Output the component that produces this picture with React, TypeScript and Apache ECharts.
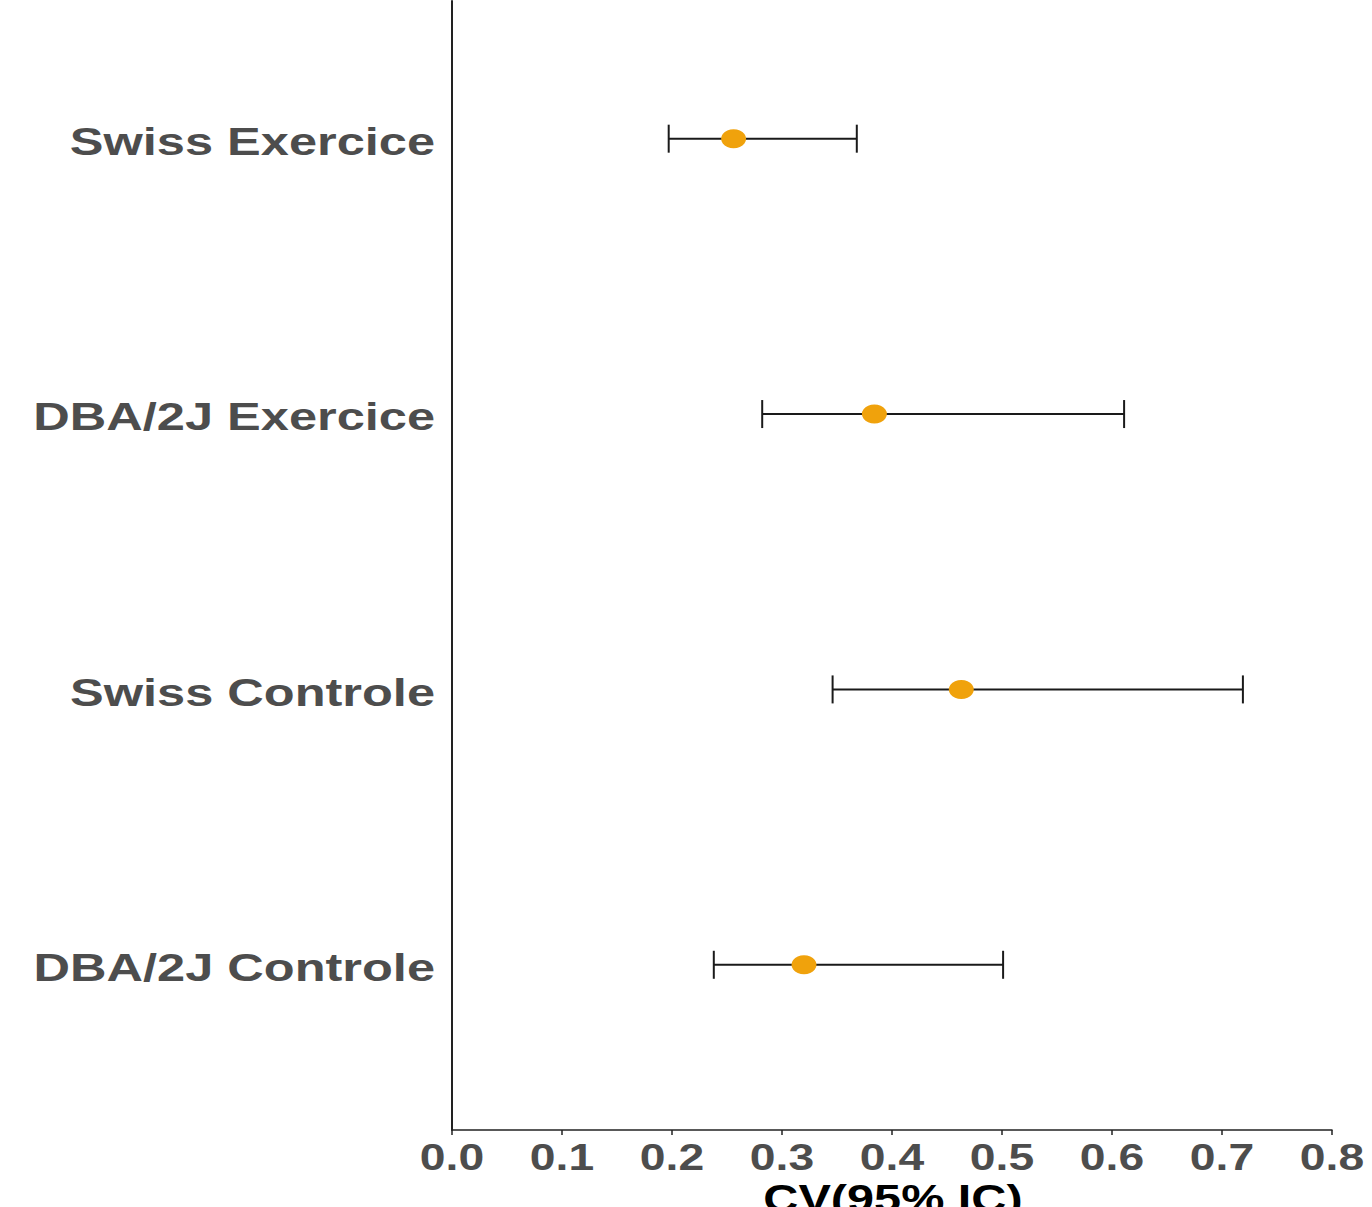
import React, { useEffect, useRef } from "react";
import * as echarts from "echarts";

// Groups, bottom to top on the vertical axis
const groups = ["DBA/2J Controle", "Swiss Controle", "DBA/2J Exercice", "Swiss Exercice"];
// Coefficient of variation and its 95% confidence interval
const cv = [0.32, 0.463, 0.384, 0.256];
const ciLow = [0.238, 0.346, 0.282, 0.197];
const ciHigh = [0.501, 0.719, 0.611, 0.368];
const xTicks = ["0.0", "0.1", "0.2", "0.3", "0.4", "0.5", "0.6", "0.7", "0.8"];
const xTitle = "CV(95% IC)";

const LABEL_FONT = "'Liberation Sans', Arial, sans-serif";
const STRETCH = 1.33;

export default function App() {
  const ref = useRef<HTMLDivElement>(null);

  useEffect(() => {
    if (!ref.current) return;
    const chart = echarts.init(ref.current, null, { renderer: "svg" });

    const pointData = groups.map((_, i) => [cv[i], i + 1]);
    const barData = groups.map((_, i) => [ciLow[i], ciHigh[i], i + 1]);

    chart.setOption({
      animation: false,
      backgroundColor: "#ffffff",
      grid: { left: 452, right: 40, top: 1, bottom: 77, containLabel: false },
      xAxis: {
        type: "value",
        min: 0,
        max: 0.8,
        interval: 0.1,
        splitLine: { show: false },
        axisLine: { show: true, lineStyle: { color: "#222222", width: 1.5 } },
        axisTick: { show: true, length: 5, lineStyle: { color: "#222222", width: 1.5 } },
        axisLabel: { show: false },
      },
      yAxis: {
        type: "value",
        min: 0.4,
        max: 4.5,
        splitLine: { show: false },
        axisLine: { show: true, onZero: false, lineStyle: { color: "#222222", width: 2 } },
        axisTick: { show: false },
        axisLabel: { show: false },
      },
      series: [
        {
          type: "custom",
          name: "IC 95%",
          data: barData,
          encode: { x: [0, 1], y: 2 },
          z: 2,
          renderItem: (params: any, api: any) => {
            const lo = api.coord([api.value(0), api.value(2)]);
            const hi = api.coord([api.value(1), api.value(2)]);
            const cap = 14;
            const style = { stroke: "#1a1a1a", lineWidth: 2 };
            return {
              type: "group",
              children: [
                { type: "line", shape: { x1: lo[0], y1: lo[1], x2: hi[0], y2: hi[1] }, style },
                { type: "line", shape: { x1: lo[0], y1: lo[1] - cap, x2: lo[0], y2: lo[1] + cap }, style },
                { type: "line", shape: { x1: hi[0], y1: hi[1] - cap, x2: hi[0], y2: hi[1] + cap }, style },
              ],
            };
          },
        },
        {
          type: "scatter",
          name: "CV",
          data: pointData,
          symbol: "circle",
          symbolSize: [25, 19],
          z: 3,
          itemStyle: { color: "#f0a20c", opacity: 1 },
        },
      ],
    });

    // Text labels, positioned from the axes' own scales
    const graphics: any[] = [];
    groups.forEach((g, i) => {
      const p = chart.convertToPixel({ gridIndex: 0 }, [0, i + 1]) as number[];
      graphics.push({
        type: "text",
        x: p[0] - 17,
        y: p[1] + 3,
        scaleX: STRETCH,
        style: {
          text: g,
          align: "right",
          verticalAlign: "middle",
          font: `bold 38px ${LABEL_FONT}`,
          fill: "#4d4d4d",
        },
      });
    });
    xTicks.forEach((t) => {
      const p = chart.convertToPixel({ gridIndex: 0 }, [parseFloat(t), 0.4]) as number[];
      graphics.push({
        type: "text",
        x: p[0],
        y: p[1] + 27,
        scaleX: 1.25,
        style: {
          text: t,
          align: "center",
          verticalAlign: "middle",
          font: `bold 37px ${LABEL_FONT}`,
          fill: "#4d4d4d",
        },
      });
    });
    const mid = chart.convertToPixel({ gridIndex: 0 }, [0.4, 0.4]) as number[];
    graphics.push({
      type: "text",
      x: mid[0] + 1,
      y: mid[1] + 69,
      scaleX: 1.28,
      style: {
        text: xTitle,
        align: "center",
        verticalAlign: "middle",
        font: `bold 38px ${LABEL_FONT}`,
        fill: "#000000",
      },
    });
    chart.setOption({ graphic: graphics });

    return () => chart.dispose();
  }, []);

  return <div ref={ref} style={{ width: 1372, height: 1207, position: "absolute", left: 0, top: 0 }} />;
}
